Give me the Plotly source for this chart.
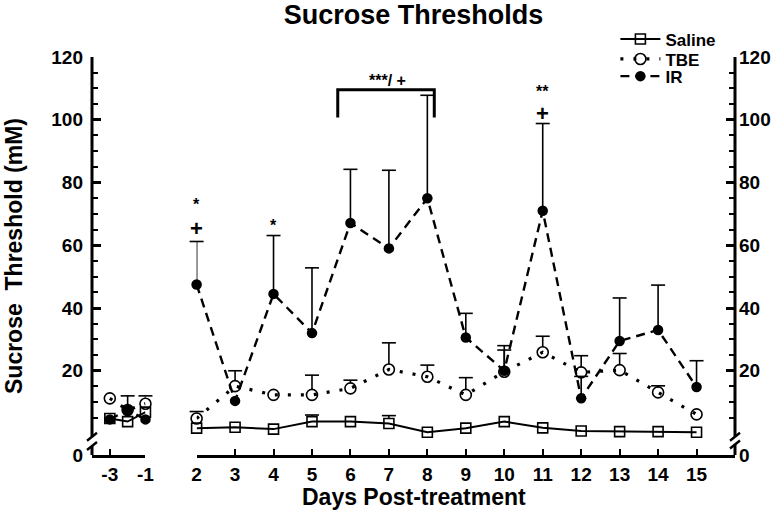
import plotly.graph_objects as go

# ---------------- data ----------------
pre_days = [-3, -2, -1]
post_days = [2, 3, 4, 5, 6, 7, 8, 9, 10, 11, 12, 13, 14, 15]

saline_pre = [4.8, 3.8, 6.8]
saline_pre_err = [0, 0, 0]
tbe_pre = [11.2, 7.5, 9.5]
tbe_pre_err = [0, 0, 2.5]
ir_pre = [4.5, 7.5, 4.5]
ir_pre_err = [0, 4.5, 0]

saline_post = [1.7, 2.0, 1.4, 3.8, 3.8, 3.2, 0.4, 1.7, 3.8, 1.8, 0.8, 0.6, 0.6, 0.4]
saline_post_err = [0, 0, 0, 2.1, 0, 2.5, 0, 0, 0, 0, 0, 0, 0, 0]
tbe_post = [4.8, 15.1, 12.3, 12.3, 14.4, 20.4, 18.1, 12.3, 19.7, 25.9, 19.5, 20.2, 13.1, 6.1]
tbe_post_err = [2.2, 4.9, 0, 6.3, 2.6, 8.5, 3.7, 5.5, 6.9, 5.1, 5.3, 5.3, 2.1, 0]
ir_post = [47.5, 10.4, 44.5, 32.0, 67.1, 59.0, 75.0, 30.6, 20.0, 71.0, 11.2, 29.5, 33.0, 14.8]
ir_post_err = [13.7, 0, 18.6, 20.8, 17.1, 24.9, 32.8, 7.7, 8.0, 27.8, 7.0, 13.7, 14.3, 8.4]

x_ticks_pre = [-3, -1]
x_tick_labels_pre = ["-3", "-1"]
x_ticks_post = post_days
x_tick_labels_post = [str(d) for d in post_days]
y_ticks = [0, 20, 40, 60, 80, 100, 120]
y_tick_labels = ["0", "20", "40", "60", "80", "100", "120"]
y_minor_ticks = [5, 10, 15, 25, 30, 35, 45, 50, 55, 65, 70, 75, 85, 90, 95, 105, 110, 115]

# significance marks (x on post-treatment axis, y in mM)
sig_marks = [(2, 74.3, "*"), (2, 65.4, "+"), (4, 67.7, "*"),
             (11, 110.4, "**"), (11, 101.9, "+"), (6.96, 113.8, "***/ +")]
bracket_x = [5.67, 8.18]
bracket_y = [100.7, 109.6]

# ---------------- layout constants ----------------
AXIS_BOTTOM = -6.85      # where the broken axis draws "0"
Y_TOP = 120
FONT = "Liberation Sans, Arial, sans-serif"
BLACK = "#000000"

y_tickvals = [AXIS_BOTTOM if v == 0 else v for v in y_ticks]

fig = go.Figure()


def err_traces(x, y, e, xa, offset):
    xs, ys, cx, cy = [], [], [], []
    for xi, yi, ei in zip(x, y, e):
        if ei > 0:
            xs += [xi, xi, None]
            ys += [yi + min(offset, ei), yi + ei, None]
            cx.append(xi)
            cy.append(yi + ei)
    fig.add_trace(go.Scatter(x=xs, y=ys, xaxis=xa, yaxis="y", mode="lines",
                             line=dict(color=BLACK, width=1.6), showlegend=False,
                             hoverinfo="skip", cliponaxis=False))
    fig.add_trace(go.Scatter(x=cx, y=cy, xaxis=xa, yaxis="y", mode="markers",
                             marker=dict(symbol="line-ew", size=10,
                                         line=dict(color=BLACK, width=1.6)),
                             showlegend=False, hoverinfo="skip", cliponaxis=False))


series = [
    ("Saline", saline_pre, saline_pre_err, saline_post, saline_post_err,
     dict(color=BLACK, width=2), dict(symbol="square-open", size=10, color=BLACK,
                                     line=dict(width=1.6, color=BLACK)), 1.5, "legend"),
    ("TBE", tbe_pre, tbe_pre_err, tbe_post, tbe_post_err,
     dict(color=BLACK, width=3.2, dash="3px,10px"),
     dict(symbol="circle-open", size=11, color=BLACK, line=dict(width=1.6, color=BLACK)), 1.6,
     "legend2"),
    ("IR", ir_pre, ir_pre_err, ir_post, ir_post_err,
     dict(color=BLACK, width=2.4, dash="9px,6px"),
     dict(symbol="circle", size=10.5, color=BLACK, line=dict(width=0)), 0, "legend3"),
]

for name, pre, pre_e, post, post_e, ln, mk, off, lg in series:
    err_traces(pre_days, pre, pre_e, "x", off)
    err_traces(post_days, post, post_e, "x2", off)

for name, pre, pre_e, post, post_e, ln, mk, off, lg in series:
    fig.add_trace(go.Scatter(x=pre_days, y=pre, xaxis="x", yaxis="y", mode="lines+markers",
                             line=ln, marker=mk, name=name, legendgroup=name,
                             showlegend=False, cliponaxis=False))
    fig.add_trace(go.Scatter(x=post_days, y=post, xaxis="x2", yaxis="y", mode="lines+markers",
                             line=ln, marker=mk, name=name, legendgroup=name, legend=lg,
                             showlegend=True, cliponaxis=False))

# invisible trace so the right-hand axis is drawn
fig.add_trace(go.Scatter(x=post_days, y=ir_post, xaxis="x2", yaxis="y2", mode="markers",
                         marker=dict(opacity=0), showlegend=False, hoverinfo="skip"))

# ---------------- axes ----------------
L, R, T, B = 92, 40.5, 56.5, 62
W, H = 776, 517
plot_w = W - L - R
plot_h = H - T - B
x_split = (145.5 - L) / plot_w
x2_start = (196.7 - L) / plot_w

tickfont = dict(family=FONT, size=19, color=BLACK, weight="bold")
xcommon = dict(showline=True, linewidth=3, linecolor=BLACK, ticks="inside", ticklen=6,
               tickwidth=2, tickcolor=BLACK, showgrid=False, zeroline=False,
               tickfont=tickfont, tickmode="array", anchor="y")
fig.update_layout(
    xaxis=dict(domain=[0, x_split], range=[-4.0, -1], tickvals=x_ticks_pre,
               ticktext=x_tick_labels_pre, **xcommon),
    xaxis2=dict(domain=[x2_start, 1], range=[2, 16], tickvals=x_ticks_post,
                ticktext=x_tick_labels_post, **xcommon),
)
ycommon = dict(range=[AXIS_BOTTOM, Y_TOP], showline=False, ticks="inside", ticklen=9,
               tickwidth=2.5, tickcolor=BLACK, showgrid=False, zeroline=False,
               tickmode="array", tickvals=y_tickvals, ticktext=y_tick_labels,
               tickfont=tickfont,
               minor=dict(tickmode="array", tickvals=y_minor_ticks, ticks="inside",
                          ticklen=6, tickwidth=2, tickcolor=BLACK))
fig.update_layout(
    yaxis=dict(anchor="x", side="left", ticklabelstandoff=8,
               title=dict(text="Sucrose  Threshold (mM)", standoff=22,
                          font=dict(family=FONT, size=23, color=BLACK, weight="bold")),
               **ycommon),
    yaxis2=dict(anchor="x2", side="right", overlaying="y", ticklabelstandoff=3, **ycommon),
)

# broken y-axis lines
shapes = []
for xp, lower_top in [(0, -4.0), (1, -3.5)]:
    shapes.append(dict(type="line", xref="paper", yref="y", x0=xp, x1=xp, y0=-1, y1=Y_TOP,
                       line=dict(color=BLACK, width=3)))
    shapes.append(dict(type="line", xref="paper", yref="y", x0=xp, x1=xp,
                       y0=AXIS_BOTTOM, y1=lower_top, line=dict(color=BLACK, width=3)))
    for yb in (-1, lower_top):
        shapes.append(dict(type="line", xref="paper", yref="y",
                           xsizemode="pixel", xanchor=xp, x0=-5, x1=5,
                           ysizemode="pixel", yanchor=yb, y0=-4, y1=4,
                           line=dict(color=BLACK, width=2.5)))

# significance bracket
shapes.append(dict(type="path", xref="x2", yref="y",
                   path=f"M {bracket_x[0]},{bracket_y[0]} L {bracket_x[0]},{bracket_y[1]} "
                        f"L {bracket_x[1]},{bracket_y[1]} L {bracket_x[1]},{bracket_y[0]}",
                   line=dict(color=BLACK, width=3)))

annotations = []
for xv, yv, txt in sig_marks:
    big = txt.startswith("+")
    annotations.append(dict(x=xv, y=yv, xref="x2", yref="y", text=txt, showarrow=False,
                            yshift=(0 if big else -4),
                            font=dict(family=FONT, size=(22 if big else 16), color=BLACK,
                                      weight="bold")))
annotations.append(dict(x=0.5, y=-0.105, xref="paper", yref="paper", yanchor="middle",
                        text="Days Post-treatment", showarrow=False,
                        font=dict(family=FONT, size=23, color=BLACK, weight="bold")))


def legend_at(center_px):
    top_px = center_px - 17.4
    return dict(x=0.814, y=1 + (T - top_px) / plot_h, xanchor="left", yanchor="top",
                bgcolor="rgba(0,0,0,0)",
                font=dict(family=FONT, size=17, color=BLACK, weight="bold"),
                tracegroupgap=0, itemwidth=40)


fig.update_layout(
    width=W, height=H,
    margin=dict(l=L, r=R, t=T, b=B, autoexpand=False),
    paper_bgcolor="white", plot_bgcolor="white",
    shapes=shapes, annotations=annotations,
    title=dict(text="Sucrose Thresholds", x=0.5, xref="paper", xanchor="center",
               y=0.99, yref="container", yanchor="top",
               font=dict(family=FONT, size=27, color=BLACK, weight="bold")),
    legend=legend_at(38.3),
    legend2=legend_at(58.3),
    legend3=legend_at(75.5),
    showlegend=True,
)

fig.write_html("out.html", config={"displayModeBar": False},
               post_script="document.body.style.margin='0px';")
